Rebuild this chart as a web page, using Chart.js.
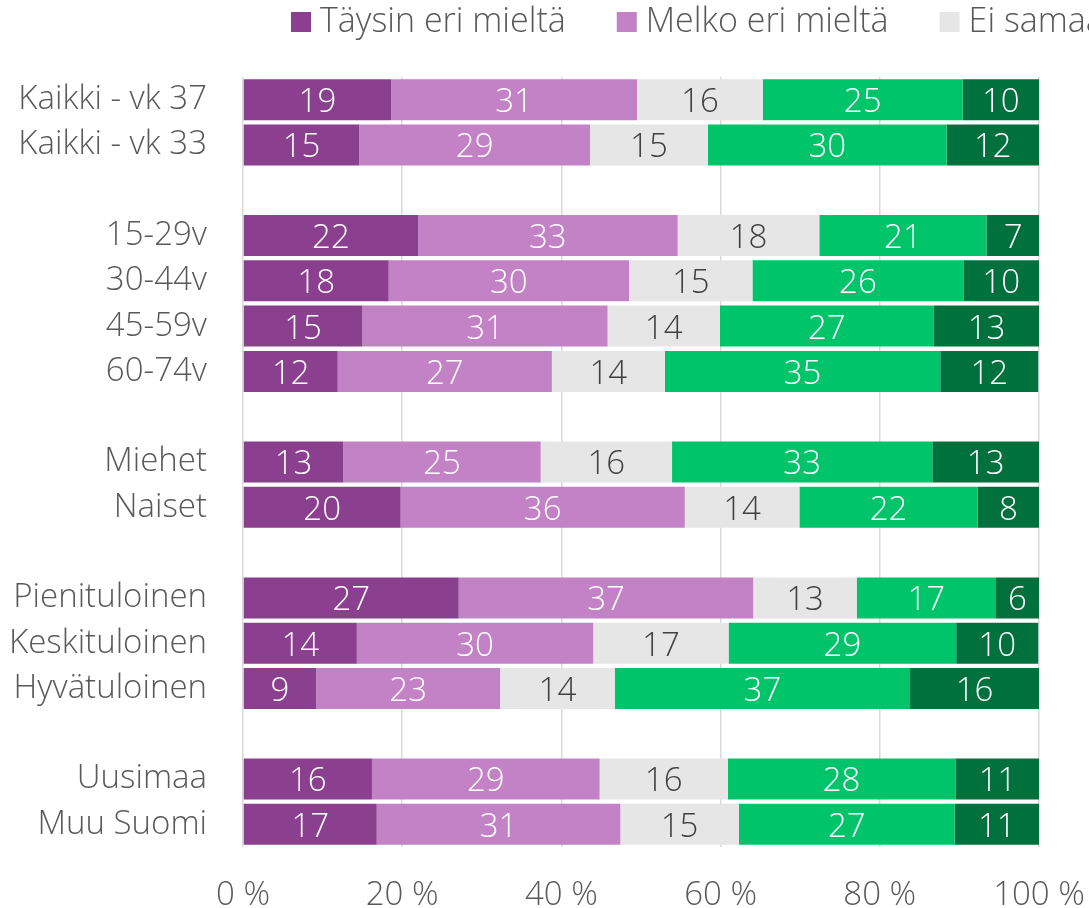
<!DOCTYPE html>
<html>
<head>
<meta charset="utf-8">
<script src="https://cdn.jsdelivr.net/npm/chart.js@4"></script>
<style>
  html, body { margin: 0; padding: 0; background: #fff; overflow: hidden; }
  #wrap { width: 1089px; height: 908px; }
</style>
</head>
<body>
<div id="wrap"><canvas id="myChart" width="1089" height="908"></canvas></div>
<script>
const categories = ['Kaikki - vk 37', 'Kaikki - vk 33', '', '15-29v', '30-44v', '45-59v', '60-74v', '', 'Miehet', 'Naiset', '', 'Pienituloinen', 'Keskituloinen', 'Hyvätuloinen', '', 'Uusimaa', 'Muu Suomi'];
const seriesNames = ['Täysin eri mieltä', 'Melko eri mieltä', 'Ei samaa eikä eri mieltä', 'Melko samaa mieltä', 'Täysin samaa mieltä'];

// segment widths (%)
const taysinEri   = [18.6, 14.6, null, 22.0, 18.3, 15.0, 11.9, null, 12.6, 19.8, null, 27.1, 14.3, 9.2, null, 16.2, 16.8];
const melkoEri    = [30.9, 29.0, null, 32.6, 30.2, 30.8, 26.9, null, 24.8, 35.7, null, 37.0, 29.7, 23.1, null, 28.6, 30.6];
const eiSamaa     = [15.8, 14.8, null, 17.8, 15.5, 14.1, 14.2, null, 16.5, 14.4, null, 13.0, 17.0, 14.4, null, 16.1, 14.9];
const melkoSamaa  = [25.1, 30.0, null, 21.0, 26.5, 26.9, 34.6, null, 32.7, 22.4, null, 17.5, 28.6, 37.1, null, 28.6, 27.1];
const taysinSamaa = [9.6, 11.6, null, 6.7, 9.5, 13.2, 12.3, null, 13.4, 7.7, null, 5.4, 10.3, 16.2, null, 10.6, 10.6];

// rounded numbers printed on the bars
const taysinEriLbl   = [19, 15, null, 22, 18, 15, 12, null, 13, 20, null, 27, 14, 9, null, 16, 17];
const melkoEriLbl    = [31, 29, null, 33, 30, 31, 27, null, 25, 36, null, 37, 30, 23, null, 29, 31];
const eiSamaaLbl     = [16, 15, null, 18, 15, 14, 14, null, 16, 14, null, 13, 17, 14, null, 16, 15];
const melkoSamaaLbl  = [25, 30, null, 21, 26, 27, 35, null, 33, 22, null, 17, 29, 37, null, 28, 27];
const taysinSamaaLbl = [10, 12, null, 7, 10, 13, 12, null, 13, 8, null, 6, 10, 16, null, 11, 11];

const xTicks = [0, 20, 40, 60, 80, 100];

(function(){
    const grafico = document.getElementById('myChart');
    const fontFam = "'Open Sans', 'DejaVu Sans', sans-serif";
    const colores = ['#8B3F8F', '#C381C6', '#E6E6E6', '#00C46A', '#00703C'];
    const colorTexto = ['#FFFFFF', '#FFFFFF', '#404040', '#FFFFFF', '#FFFFFF'];
    const valores = [taysinEri, melkoEri, eiSamaa, melkoSamaa, taysinSamaa];
    const etiquetas = [taysinEriLbl, melkoEriLbl, eiSamaaLbl, melkoSamaaLbl, taysinSamaaLbl];

    const datasets = seriesNames.map((nombre, i) => ({
        label: nombre,
        data: valores[i],
        backgroundColor: colores[i],
        borderWidth: 0,
        barPercentage: 0.905,
        categoryPercentage: 1.0
    }));

    // numbers inside the segments
    const etiquetasPlugin = {
        id: 'etiquetas',
        afterDatasetsDraw(chart) {
            const ctx = chart.ctx;
            ctx.save();
            ctx.font = '300 33px ' + fontFam;
            ctx.textAlign = 'center';
            ctx.textBaseline = 'middle';
            chart.data.datasets.forEach((ds, i) => {
                const meta = chart.getDatasetMeta(i);
                meta.data.forEach((bar, j) => {
                    const txt = etiquetas[i][j];
                    if (txt === null || ds.data[j] === null) return;
                    ctx.fillStyle = colorTexto[i];
                    ctx.fillText(String(txt), (bar.x + bar.base) / 2, bar.y + 3);
                });
            });
            ctx.restore();
        }
    };

    // legend in one row, running off the right edge like the original
    const leyendaPlugin = {
        id: 'leyenda',
        afterDraw(chart) {
            const ctx = chart.ctx;
            ctx.save();
            ctx.font = '300 34px ' + fontFam;
            ctx.textBaseline = 'middle';
            ctx.textAlign = 'left';
            let x = 291;
            const y = 22;
            chart.data.datasets.forEach((ds) => {
                ctx.fillStyle = ds.backgroundColor;
                ctx.fillRect(x, y - 10, 20, 20);
                ctx.fillStyle = '#595959';
                ctx.fillText(ds.label, x + 29, y);
                x += 29 + ctx.measureText(ds.label).width + 51;
            });
            ctx.restore();
        }
    };

    const config = {
        type: 'bar',
        data: { labels: categories, datasets: datasets },
        options: {
            indexAxis: 'y',
            responsive: false,
            animation: false,
            layout: { padding: { top: 77, right: 50, left: 0, bottom: 0 } },
            plugins: {
                legend: { display: false },
                tooltip: { enabled: false },
                title: { display: false }
            },
            scales: {
                x: {
                    stacked: true,
                    min: 0,
                    max: 100,
                    afterBuildTicks: (scale) => { scale.ticks = xTicks.map(v => ({ value: v })); },
                    afterFit: (scale) => {
                        scale.height = 61;
                        scale.paddingLeft = 0;
                        scale.paddingRight = 0;
                    },
                    grid: { color: '#D9D9D9', lineWidth: 1.5, drawTicks: false },
                    border: { display: false },
                    ticks: {
                        padding: 29,
                        color: '#595959',
                        font: { family: fontFam, size: 33, weight: '300' },
                        callback: (v) => v + ' %'
                    }
                },
                y: {
                    stacked: true,
                    afterFit: (scale) => { scale.width = 243; },
                    grid: { display: false, drawTicks: false },
                    border: { display: false },
                    ticks: {
                        padding: 36,
                        color: '#595959',
                        autoSkip: false,
                        font: { family: fontFam, size: 33, weight: '300' }
                    }
                }
            }
        },
        plugins: [etiquetasPlugin, leyendaPlugin]
    };

    new Chart(grafico, config);
})();
</script>
</body>
</html>
